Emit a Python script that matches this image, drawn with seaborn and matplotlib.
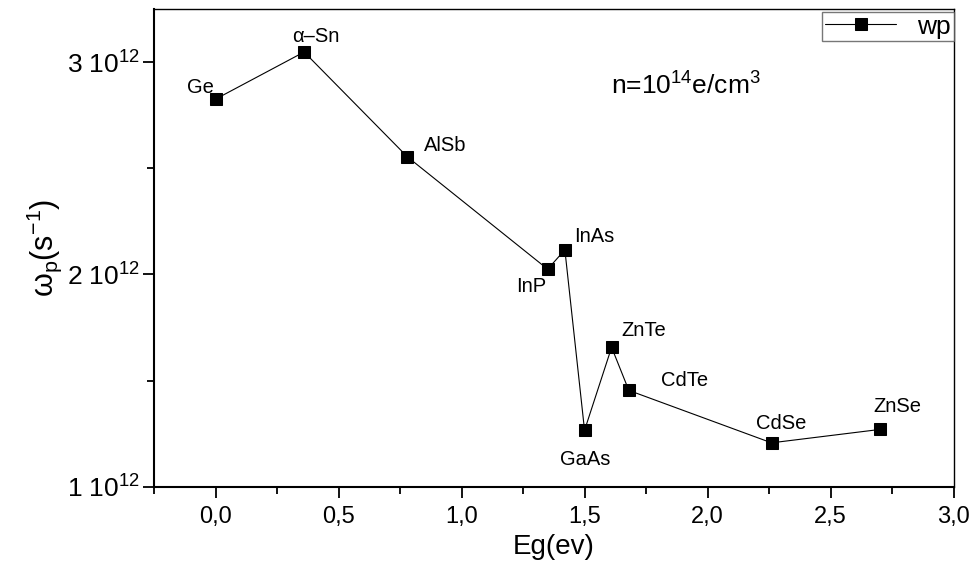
import pandas as pd
import seaborn as sns
import matplotlib.pyplot as plt
from matplotlib.ticker import FuncFormatter, MultipleLocator

materials = ["Ge", "α–Sn", "AlSb", "InP", "InAs", "GaAs", "ZnTe", "CdTe", "CdSe", "ZnSe"]
eg = [0.0, 0.36, 0.78, 1.35, 1.42, 1.50, 1.61, 1.68, 2.26, 2.70]
wp = [2.826e12, 3.048e12, 2.554e12, 2.025e12, 2.116e12, 1.266e12, 1.657e12, 1.454e12, 1.207e12, 1.270e12]

# label offsets in pixels (dx, dy) from each point
offsets = [(-15, 12), (12, 16), (38, 11), (-16, -17), (29, 13),
           (1, -29), (32, 17), (56, 10), (10, 19), (18, 23)]

df = pd.DataFrame({"Eg": eg, "wp": wp, "name": materials})

sns.set_style("ticks")
plt.rcParams["font.family"] = ["Liberation Sans", "DejaVu Sans"]
plt.rcParams["mathtext.fontset"] = "custom"
plt.rcParams["mathtext.rm"] = "Liberation Sans"
plt.rcParams["mathtext.it"] = "Liberation Sans:italic"
plt.rcParams["text.color"] = "black"
plt.rcParams["axes.labelcolor"] = "black"
plt.rcParams["xtick.color"] = "black"
plt.rcParams["ytick.color"] = "black"

fig = plt.figure(figsize=(9.75, 5.7), dpi=100)
ax = fig.add_axes([0.158, 0.146, 0.820, 0.838])

sns.lineplot(data=df, x="Eg", y="wp", sort=False, marker="s", markersize=9,
             color="black", linewidth=0.8, markeredgecolor="black",
             label="wp", ax=ax)

for (x, y, name), (dx, dy) in zip(zip(eg, wp, materials), offsets):
    ax.annotate(name, (x, y), xytext=(dx, dy), textcoords="offset pixels",
                ha="center", va="center", fontsize=14.5)

ax.text(0.665, 0.84, r"n=10$\mathregular{^{14}}$e/cm$\mathregular{^3}$",
        transform=ax.transAxes, fontsize=19, ha="center", va="center")

ax.set_xlim(-0.25, 3.0)
ax.set_ylim(1e12, 3.25e12)
ax.xaxis.set_major_locator(MultipleLocator(0.5))
ax.xaxis.set_minor_locator(MultipleLocator(0.25))
ax.yaxis.set_major_locator(MultipleLocator(1e12))
ax.yaxis.set_minor_locator(MultipleLocator(0.5e12))
ax.xaxis.set_major_formatter(FuncFormatter(lambda v, _: f"{v:.1f}".replace(".", ",")))
ax.yaxis.set_major_formatter(FuncFormatter(lambda v, _: f"{v/1e12:.0f} " + r"$\mathregular{10^{12}}$"))

ax.tick_params(axis="both", which="major", length=8, width=1.3, direction="out")
ax.tick_params(axis="both", which="minor", length=5, width=1.3, direction="out")
ax.tick_params(axis="x", labelsize=17, pad=6)
ax.tick_params(axis="y", labelsize=19, pad=2)

for side in ["left", "bottom"]:
    ax.spines[side].set_linewidth(1.5)
for side in ["top", "right"]:
    ax.spines[side].set_linewidth(1.0)
    ax.spines[side].set_visible(True)
for sp in ax.spines.values():
    sp.set_color("black")

ax.set_xlabel("Eg(ev)", fontsize=20, labelpad=4)
ax.set_ylabel(r"$\mathregular{\omega_p(s^{-1})}$", fontsize=22, labelpad=2)

leg = ax.legend(loc="upper right", bbox_to_anchor=(1.0, 0.994), borderaxespad=0,
                fontsize=19, frameon=True, fancybox=False, handlelength=2.7,
                borderpad=0.1, handletextpad=0.8)
leg.get_frame().set_edgecolor("#555555")
leg.get_frame().set_linewidth(1.0)

fig.savefig("out.png", dpi=100)
